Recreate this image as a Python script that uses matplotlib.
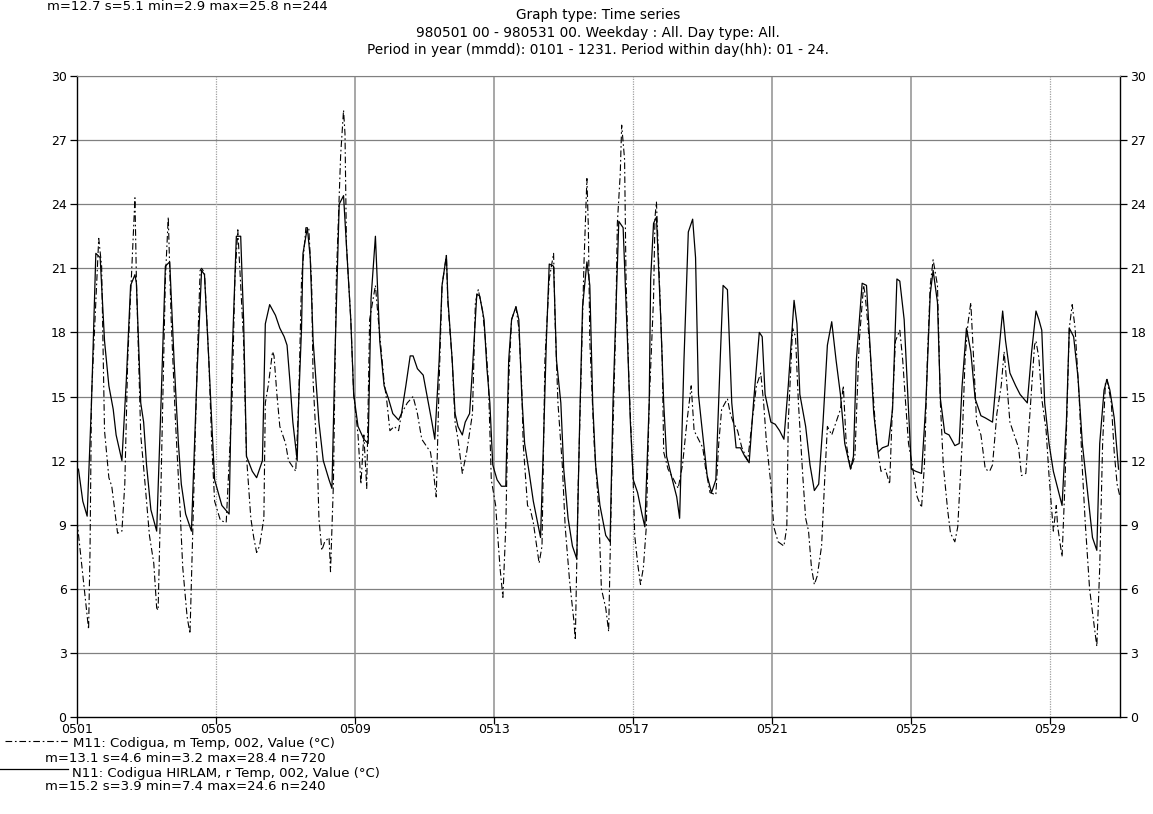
import matplotlib
matplotlib.use("Agg")
import matplotlib.pyplot as plt
import numpy as np

plt.rcParams["font.family"] = ["DejaVu Sans"]

# hours since 980501 00 and temperature (deg C)
M11_HOURS = [0, 8, 9, 10, 15, 17, 19, 22, 24, 26, 28, 31, 33, 35, 40, 41, 44, 47, 50, 53,
             55, 56, 58, 61, 63, 65, 68, 71, 73, 76, 78, 80, 83, 85, 86, 88, 91, 93, 95, 99,
             103, 107, 109, 111, 115, 117, 120, 122, 124, 126, 129, 130, 132, 135, 136, 138,
             140, 144, 146, 151, 153, 155, 158, 160, 162, 163, 166, 167, 169, 171, 174, 175,
             177, 179, 182, 184, 185, 186, 189, 191, 194, 196, 198, 200, 202, 206, 208, 212,
             214, 216, 219, 222, 224, 228, 232, 235, 238, 242, 244, 246, 248, 250, 252, 255,
             256, 259, 261, 263, 266, 269, 273, 275, 277, 280, 282, 284, 286, 289, 290, 292,
             294, 296, 298, 300, 303, 305, 307, 308, 311, 313, 315, 319, 321, 323, 326, 329,
             330, 332, 335, 337, 340, 343, 344, 346, 349, 350, 352, 353, 354, 357, 360, 362,
             365, 367, 369, 372, 373, 375, 376, 378, 379, 381, 384, 385, 387, 389, 391, 393,
             395, 398, 399, 400, 402, 404, 405, 408, 412, 415, 418, 421, 424, 426, 429, 432,
             434, 437, 441, 443, 445, 449, 451, 453, 456, 459, 463, 466, 469, 472, 474, 476,
             479, 481, 484, 488, 490, 491, 494, 496, 498, 501, 503, 505, 507, 509, 511, 514,
             516, 518, 521, 524, 527, 529, 531, 534, 537, 540, 543, 544, 547, 550, 552, 555,
             558, 561, 563, 565, 568, 570, 572, 574, 577, 580, 583, 585, 587, 589, 591, 594,
             596, 598, 601, 603, 606, 608, 611, 613, 615, 617, 619, 621, 624, 627, 630, 632,
             635, 638, 640, 642, 644, 648, 650, 652, 655, 658, 661, 662, 664, 666, 669, 671,
             674, 676, 677, 680, 682, 684, 685, 687, 689, 692, 694, 696, 699, 701, 704, 706,
             708, 710, 711, 714, 716, 718, 720]
M11_TEMP = [9.2, 4.1, 7.8, 15.0, 22.4, 21.1, 13.4, 11.2, 10.8, 9.7, 8.6, 8.7, 10.9, 16.7,
            24.3, 20.5, 13.2, 10.9, 8.5, 7.2, 5.1, 5.0, 10.9, 20.5, 23.4, 18.6, 13.8, 9.9,
            7.0, 4.7, 3.9, 8.9, 16.7, 20.9, 21.0, 20.8, 16.7, 12.8, 10.1, 9.2, 9.1, 14.7,
            20.5, 22.8, 17.6, 12.2, 9.3, 8.4, 7.7, 8.0, 9.3, 14.7, 15.5, 17.1, 16.9, 15.1,
            13.6, 12.8, 12.0, 11.5, 14.7, 20.5, 22.9, 22.9, 20.2, 15.7, 11.8, 9.3, 7.8, 8.2,
            8.4, 6.8, 10.9, 20.5, 26.3, 28.4, 27.3, 22.1, 18.6, 15.1, 13.2, 10.9, 13.2,
            10.7, 18.6, 20.2, 18.6, 15.7, 14.7, 13.4, 13.6, 13.4, 14.2, 14.7, 15.0, 14.2,
            13.0, 12.6, 12.4, 11.5, 10.3, 15.7, 20.2, 21.6, 19.4, 16.7, 13.8, 13.0, 11.4,
            12.4, 14.2, 19.4, 20.0, 19.0, 17.6, 15.7, 11.1, 9.9, 8.9, 7.0, 5.6, 8.9, 15.7,
            18.6, 19.2, 18.2, 15.5, 12.8, 9.9, 9.7, 9.1, 7.2, 8.0, 16.7, 20.5, 21.7, 18.6,
            14.7, 11.8, 8.9, 6.4, 4.5, 3.6, 10.9, 18.6, 21.3, 25.2, 22.9, 17.6, 12.8, 9.9,
            6.0, 5.1, 4.0, 10.9, 18.6, 23.1, 25.4, 27.7, 26.1, 20.5, 15.7, 10.9, 8.5, 7.2,
            6.2, 7.0, 8.9, 14.7, 19.6, 23.4, 24.1, 20.5, 16.7, 12.4, 11.6, 11.1, 10.7, 11.8,
            13.8, 15.5, 13.4, 13.0, 12.6, 11.6, 10.5, 10.4, 12.8, 14.4, 14.9, 14.2, 13.8,
            13.4, 12.6, 12.0, 13.8, 15.5, 16.1, 14.7, 12.8, 10.9, 8.9, 8.2, 8.0, 8.9, 13.8,
            18.2, 17.8, 14.7, 11.3, 9.3, 8.7, 7.0, 6.2, 6.6, 8.0, 10.9, 13.6, 13.2, 13.8,
            14.4, 15.5, 12.8, 11.6, 12.2, 17.6, 20.2, 19.8, 17.6, 14.7, 12.8, 11.5, 11.6,
            10.9, 14.7, 17.6, 18.1, 16.7, 14.7, 12.8, 11.6, 10.3, 9.8, 11.8, 16.7, 20.2,
            21.4, 20.2, 14.7, 11.8, 9.7, 8.6, 8.2, 8.9, 12.8, 16.7, 18.4, 19.4, 16.7, 13.8,
            13.2, 11.6, 11.5, 11.8, 14.2, 15.5, 17.1, 15.5, 13.8, 13.0, 12.6, 11.3, 11.4,
            14.4, 17.4, 17.6, 16.8, 14.9, 13.4, 11.3, 8.7, 9.9, 8.9, 7.5, 10.9, 15.7, 18.2,
            19.3, 18.2, 14.7, 11.6, 9.1, 6.0, 4.9, 3.3, 7.0, 12.8, 15.7, 15.8, 14.7, 12.4,
            10.9, 10.3]

N11_HOURS = [1, 4, 7, 10, 13, 16, 19, 22, 25, 27, 31, 34, 37, 40, 41, 44, 46, 48, 51, 55,
             58, 61, 64, 67, 70, 72, 75, 79, 83, 86, 88, 91, 93, 95, 100, 105, 107, 110, 113,
             115, 117, 121, 124, 128, 130, 133, 137, 140, 143, 145, 147, 149, 152, 153, 155,
             156, 159, 161, 163, 167, 170, 174, 176, 178, 181, 184, 186, 189, 191, 194, 198,
             201, 203, 206, 209, 212, 215, 218, 222, 224, 227, 230, 232, 235, 239, 242, 245,
             247, 250, 252, 255, 256, 259, 261, 263, 266, 268, 271, 273, 276, 278, 281, 283,
             285, 287, 290, 293, 296, 298, 300, 303, 305, 307, 309, 312, 315, 320, 322, 324,
             326, 329, 331, 334, 336, 339, 342, 345, 347, 349, 352, 354, 356, 358, 361, 365,
             368, 370, 374, 377, 380, 382, 384, 387, 390, 392, 395, 396, 398, 400, 403, 405,
             407, 411, 414, 416, 419, 422, 425, 427, 429, 431, 435, 438, 441, 444, 446, 449,
             452, 455, 458, 461, 464, 467, 471, 473, 475, 479, 482, 485, 488, 491, 495, 497,
             499, 503, 506, 509, 512, 515, 518, 521, 524, 527, 530, 534, 536, 538, 542, 545,
             548, 550, 553, 556, 560, 563, 566, 568, 571, 574, 576, 579, 583, 586, 589, 591,
             594, 596, 599, 602, 606, 609, 611, 614, 617, 620, 624, 627, 632, 635, 639, 641,
             644, 648, 651, 656, 659, 662, 664, 666, 668, 671, 674, 677, 680, 683, 685, 688,
             691, 694, 697, 701, 704, 706, 709, 711, 713, 716, 719]
N11_TEMP = [11.6, 10.1, 9.4, 14.7, 21.7, 21.5, 17.6, 15.5, 14.4, 13.2, 12.0, 15.7, 20.2,
            20.7, 20.3, 14.7, 13.8, 11.8, 9.7, 8.7, 14.7, 21.1, 21.3, 16.7, 12.8, 10.9, 9.5,
            8.7, 16.3, 20.9, 20.7, 16.7, 13.8, 11.1, 9.9, 9.5, 16.7, 22.5, 22.5, 18.6, 12.2,
            11.5, 11.2, 12.0, 18.4, 19.3, 18.8, 18.2, 17.8, 17.4, 15.7, 13.8, 12.0, 14.7,
            18.2, 21.7, 22.9, 21.5, 17.6, 13.8, 12.0, 11.1, 10.7, 16.7, 24.0, 24.4, 22.1,
            18.6, 15.1, 13.6, 13.0, 12.8, 19.6, 22.5, 17.6, 15.5, 14.9, 14.2, 13.9, 14.2,
            15.5, 16.9, 16.9, 16.3, 16.0, 14.9, 13.8, 13.0, 16.7, 20.2, 21.6, 19.6, 16.7,
            14.2, 13.6, 13.2, 13.8, 14.2, 16.3, 19.8, 19.7, 18.6, 16.3, 14.7, 11.8, 11.1,
            10.8, 10.8, 16.7, 18.6, 19.2, 18.6, 15.1, 12.8, 11.5, 10.1, 8.4, 12.8, 17.6,
            21.2, 21.1, 16.7, 14.7, 11.6, 9.3, 8.0, 7.4, 13.8, 19.2, 21.3, 20.2, 14.7, 11.8,
            9.9, 8.5, 8.2, 14.7, 23.2, 22.9, 17.6, 13.8, 11.1, 10.5, 9.5, 8.9, 14.7, 20.5,
            23.1, 23.4, 18.6, 14.7, 12.2, 11.1, 10.3, 9.3, 16.7, 22.7, 23.3, 21.5, 15.1,
            13.8, 11.3, 10.5, 11.1, 16.7, 20.2, 20.0, 14.7, 12.6, 12.6, 12.2, 11.9, 14.7,
            18.0, 17.8, 15.1, 13.8, 13.7, 13.4, 13.0, 15.5, 19.5, 18.4, 15.1, 13.6, 11.8,
            10.6, 10.9, 13.8, 17.4, 18.5, 16.7, 15.1, 12.8, 11.6, 12.2, 16.7, 20.3, 20.2,
            16.7, 14.2, 12.4, 12.6, 12.7, 14.4, 20.5, 20.4, 18.6, 14.4, 11.6, 11.5, 11.4,
            14.7, 19.8, 20.9, 19.4, 14.9, 13.3, 13.2, 12.7, 12.8, 15.5, 18.2, 17.1, 14.9,
            14.1, 14.0, 13.8, 16.1, 19.0, 17.6, 16.1, 15.5, 15.1, 14.7, 17.1, 19.0, 18.6,
            18.1, 14.7, 12.8, 11.5, 10.7, 9.9, 13.8, 18.2, 17.8, 15.9, 12.8, 10.9, 8.4, 7.8,
            12.8, 15.3, 15.8, 15.3, 14.0, 11.6]

DAY_LABELS = ["0501", "0505", "0509", "0513", "0517", "0521", "0525", "0529"]
DOTTED_DAYS = ["0505", "0517", "0529"]
Y_TICKS = list(range(0, 31, 3))

HEADER = "m=12.7 s=5.1 min=2.9 max=25.8 n=244"
TITLE_LINES = [
    "Graph type: Time series",
    "980501 00 - 980531 00. Weekday : All. Day type: All.",
    "Period in year (mmdd): 0101 - 1231. Period within day(hh): 01 - 24.",
]
M11_LABEL = "M11: Codigua, m Temp, 002, Value (°C)"
M11_STATS = "m=13.1 s=4.6 min=3.2 max=28.4 n=720"
N11_LABEL = "N11: Codigua HIRLAM, r Temp, 002, Value (°C)"
N11_STATS = "m=15.2 s=3.9 min=7.4 max=24.6 n=240"

TICK_FS = 9
TEXT_FS = 9.5
TITLE_FS = 9.8
W, H = 1153, 814
DASH_DOT = (6, 2.5, 1.5, 2.5)


def hour_of(label):
    return (int(label[2:]) - 1) * 24


def main():
    fig = plt.figure(figsize=(W / 100, H / 100), dpi=100)
    ax = fig.add_axes([77 / W, 1 - 717 / H, 1043 / W, 641 / H])
    ax.set_xlim(0, 720)
    ax.set_ylim(0, 30)

    # horizontal grid
    for y in Y_TICKS[1:]:
        ax.axhline(y, color="#808080", lw=0.9, zorder=1)
    # vertical grid: some lines solid, some dotted
    for lab in DAY_LABELS[1:]:
        if lab in DOTTED_DAYS:
            ax.axvline(hour_of(lab), color="#a0a0a0", lw=0.9, ls=(0, (1, 1)), zorder=1)
        else:
            ax.axvline(hour_of(lab), color="#909090", lw=1.1, zorder=1)

    ax.plot(M11_HOURS, M11_TEMP, color="black", lw=0.8, dashes=DASH_DOT, zorder=3)
    ax.plot(N11_HOURS, N11_TEMP, color="black", lw=0.9, zorder=4)

    ax.set_yticks(Y_TICKS)
    ax.set_xticks([hour_of(lab) for lab in DAY_LABELS])
    ax.set_xticklabels(DAY_LABELS)
    ax.tick_params(axis="both", direction="out", length=5, width=0.9,
                   labelsize=TICK_FS, pad=2.5, color="black")
    ax.tick_params(axis="y", left=True, right=True, labelleft=True, labelright=True)
    ax.tick_params(axis="x", pad=-0.5)
    for side in ("left", "bottom", "right"):
        ax.spines[side].set_color("black")
        ax.spines[side].set_linewidth(1.0)
    ax.spines["top"].set_color("#808080")

    # header and title
    fig.text(47 / W, 1.0, HEADER, fontsize=TEXT_FS, ha="left", va="top")
    for i, line in enumerate(TITLE_LINES):
        fig.text(598 / W, 1 - (15 + 17.5 * i) / H, line, fontsize=TITLE_FS,
                 ha="center", va="center")

    # legend below the axes
    leg = fig.add_axes([0, 0, 1, 1], facecolor="none")
    leg.set_xlim(0, W)
    leg.set_ylim(H, 0)
    leg.axis("off")
    leg.plot([5, 68], [741, 741], color="black", lw=0.8, dashes=DASH_DOT)
    leg.text(73, 744, M11_LABEL, fontsize=TEXT_FS, va="center", ha="left")
    leg.text(45, 759, M11_STATS, fontsize=TEXT_FS, va="center", ha="left")
    leg.plot([0, 68], [769, 769], color="black", lw=0.9)
    leg.text(72, 773, N11_LABEL, fontsize=TEXT_FS, va="center", ha="left")
    leg.text(45, 787, N11_STATS, fontsize=TEXT_FS, va="center", ha="left")

    fig.savefig("out.png", dpi=100, facecolor="white")


if __name__ == "__main__":
    main()
